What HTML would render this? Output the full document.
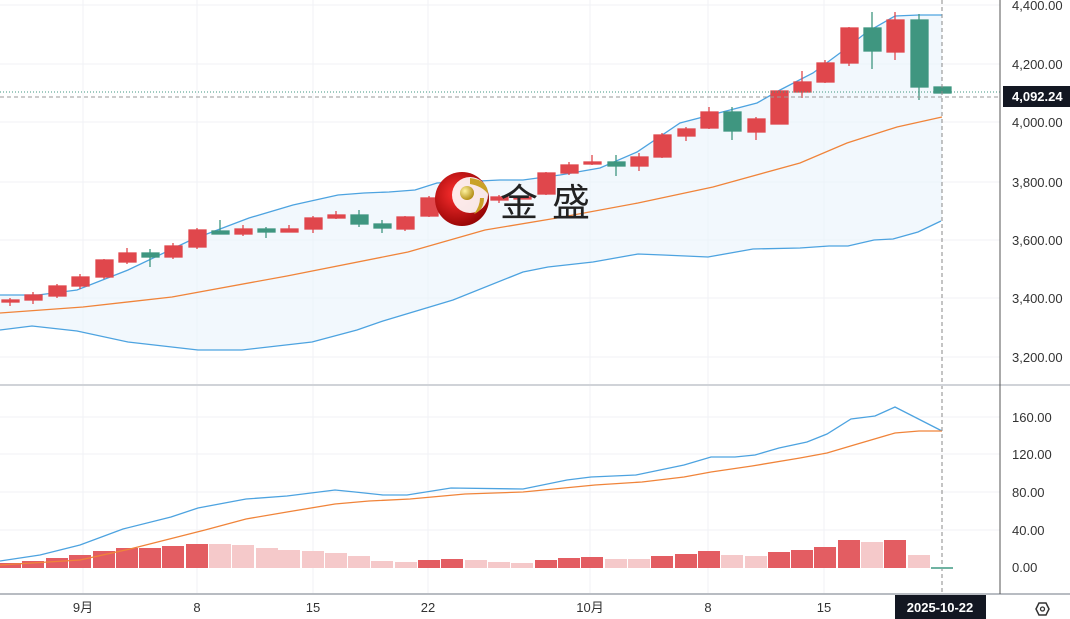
<!DOCTYPE html>
<html><head><meta charset="utf-8"><style>
html,body{margin:0;padding:0;background:#fff;}
svg{display:block;}
text{font-family:"Liberation Sans","Noto Sans CJK SC",sans-serif;}
</style></head><body>
<svg width="1070" height="619" viewBox="0 0 1070 619" xmlns="http://www.w3.org/2000/svg">
<rect width="1070" height="619" fill="#fff"/>
<!-- grid -->
<g stroke="#f0f2f5" stroke-width="1">
<line x1="0" y1="5" x2="1000" y2="5"/><line x1="0" y1="64" x2="1000" y2="64"/><line x1="0" y1="122" x2="1000" y2="122"/><line x1="0" y1="182" x2="1000" y2="182"/><line x1="0" y1="240" x2="1000" y2="240"/><line x1="0" y1="298" x2="1000" y2="298"/><line x1="0" y1="357" x2="1000" y2="357"/>
<line x1="0" y1="417" x2="1000" y2="417"/><line x1="0" y1="454" x2="1000" y2="454"/><line x1="0" y1="492" x2="1000" y2="492"/><line x1="0" y1="530" x2="1000" y2="530"/>
<line x1="83" y1="0" x2="83" y2="594"/><line x1="197" y1="0" x2="197" y2="594"/><line x1="313" y1="0" x2="313" y2="594"/><line x1="428" y1="0" x2="428" y2="594"/><line x1="590" y1="0" x2="590" y2="594"/><line x1="708" y1="0" x2="708" y2="594"/><line x1="824" y1="0" x2="824" y2="594"/>
</g>
<!-- band fill -->
<path d="M0,295 L38,295 L77,290 L128,270 L191,240 L249,218 L293,205 L338,195 L364,193 L389,192 L415,190 L437,183 L500,180 L523,180 L560,175 L600,168 L637,152 L680,123 L757,103 L780,90 L813,73 L840,53 L867,32 L895,16 L919,15 L942,15 L942,221 L918,232 L893,239 L874,240 L848,246 L829,246 L800,248 L753,249 L708,257 L663,255 L638,254 L593,262 L548,267 L523,272 L453,300 L383,321 L357,330 L312,342 L242,350 L198,350 L128,342 L77,331 L32,326 L0,330 Z" fill="#eaf4fc" fill-opacity="0.6"/>
<polyline fill="none" stroke="#4da3e0" stroke-width="1.3" points="0,295 38,295 77,290 128,270 191,240 249,218 293,205 338,195 364,193 389,192 415,190 437,183 500,180 523,180 560,175 600,168 637,152 680,123 757,103 780,90 813,73 840,53 867,32 895,16 919,15 942,15"/>
<polyline fill="none" stroke="#4da3e0" stroke-width="1.3" points="0,330 32,326 77,331 128,342 198,350 242,350 312,342 357,330 383,321 453,300 523,272 548,267 593,262 638,254 663,255 708,257 753,249 800,248 829,246 848,246 874,240 893,239 918,232 941,221"/>
<polyline fill="none" stroke="#f0843a" stroke-width="1.3" points="0,313 83,307 172,297 287,276 408,252 485,230 557,218 638,203 713,187 800,163 847,143 897,127 942,117"/>
<!-- candles -->
<g stroke-width="1.3">
<g stroke="#e0474c" fill="#e0474c">
<line x1="10" y1="298" x2="10" y2="306"/><rect x="2" y="300" width="17" height="2"/>
<line x1="33" y1="292" x2="33" y2="304"/><rect x="25" y="295" width="17" height="5"/>
<line x1="57" y1="284" x2="57" y2="298"/><rect x="49" y="286" width="17" height="10"/>
<line x1="80" y1="274" x2="80" y2="289"/><rect x="72" y="277" width="17" height="9"/>
<line x1="104" y1="259" x2="104" y2="279"/><rect x="96" y="260" width="17" height="17"/>
<line x1="127" y1="248" x2="127" y2="264"/><rect x="119" y="253" width="17" height="9"/>
<line x1="173" y1="243" x2="173" y2="259"/><rect x="165" y="246" width="17" height="11"/>
<line x1="197" y1="228" x2="197" y2="249"/><rect x="189" y="230" width="17" height="17"/>
<line x1="243" y1="225" x2="243" y2="236"/><rect x="235" y="229" width="17" height="5"/>
<line x1="289" y1="225" x2="289" y2="232"/><rect x="281" y="229" width="17" height="3"/>
<line x1="313" y1="216" x2="313" y2="233"/><rect x="305" y="218" width="17" height="11"/>
<line x1="336" y1="211" x2="336" y2="219"/><rect x="328" y="215" width="17" height="3"/>
<line x1="405" y1="216" x2="405" y2="231"/><rect x="397" y="217" width="17" height="12"/>
<line x1="429" y1="196" x2="429" y2="217"/><rect x="421" y="198" width="17" height="18"/>
<rect x="444" y="195" width="17" height="5"/>
<line x1="499" y1="195" x2="499" y2="203"/><rect x="491" y="197" width="17" height="3"/>
<rect x="514" y="197" width="17" height="2"/>
<line x1="546" y1="172" x2="546" y2="195"/><rect x="538" y="173" width="17" height="21"/>
<line x1="569" y1="162" x2="569" y2="175"/><rect x="561" y="165" width="17" height="8"/>
<line x1="592" y1="155" x2="592" y2="165"/><rect x="584" y="162" width="17" height="2"/>
<line x1="639" y1="153" x2="639" y2="171"/><rect x="631" y="157" width="17" height="9"/>
<line x1="662" y1="133" x2="662" y2="158"/><rect x="654" y="135" width="17" height="22"/>
<line x1="686" y1="127" x2="686" y2="141"/><rect x="678" y="129" width="17" height="7"/>
<line x1="709" y1="107" x2="709" y2="129"/><rect x="701" y="112" width="17" height="16"/>
<line x1="756" y1="117" x2="756" y2="140"/><rect x="748" y="119" width="17" height="13"/>
<rect x="771" y="91" width="17" height="33"/>
<line x1="802" y1="71" x2="802" y2="98"/><rect x="794" y="82" width="17" height="10"/>
<line x1="825" y1="60" x2="825" y2="83"/><rect x="817" y="63" width="17" height="19"/>
<line x1="849" y1="27" x2="849" y2="66"/><rect x="841" y="28" width="17" height="35"/>
<line x1="895" y1="12" x2="895" y2="60"/><rect x="887" y="20" width="17" height="32"/>
</g>
<g stroke="#3f9680" fill="#3f9680">
<line x1="150" y1="249" x2="150" y2="267"/><rect x="142" y="253" width="17" height="4"/>
<line x1="220" y1="220" x2="220" y2="234"/><rect x="212" y="231" width="17" height="3"/>
<line x1="266" y1="227" x2="266" y2="238"/><rect x="258" y="229" width="17" height="3"/>
<line x1="359" y1="210" x2="359" y2="227"/><rect x="351" y="215" width="17" height="9"/>
<line x1="382" y1="220" x2="382" y2="233"/><rect x="374" y="224" width="17" height="4"/>
<line x1="476" y1="188" x2="476" y2="203"/><rect x="468" y="192" width="17" height="6"/>
<line x1="616" y1="155" x2="616" y2="176"/><rect x="608" y="162" width="17" height="4"/>
<line x1="732" y1="107" x2="732" y2="140"/><rect x="724" y="112" width="17" height="19"/>
<line x1="872" y1="12" x2="872" y2="69"/><rect x="864" y="28" width="17" height="23"/>
<line x1="919" y1="14" x2="919" y2="100"/><rect x="911" y="20" width="17" height="67"/>
<rect x="934" y="87" width="17" height="6"/>
</g>
</g>
<!-- logo -->
<defs><radialGradient id="rg" cx="0.4" cy="0.4" r="0.7"><stop offset="0" stop-color="#ff3030"/><stop offset="1" stop-color="#8a0000"/></radialGradient>
<radialGradient id="gg" cx="0.35" cy="0.35" r="0.7"><stop offset="0" stop-color="#fff3a0"/><stop offset="1" stop-color="#b08a10"/></radialGradient></defs>
<circle cx="462" cy="199" r="27" fill="url(#rg)"/>
<circle cx="470" cy="195" r="18" fill="#fff" fill-opacity="0.9"/>
<path d="M470,178 Q488,180 488,194 Q482,186 470,184 Z" fill="#c9a227"/>
<path d="M484,198 Q484,210 474,214 Q480,206 480,198 Z" fill="#c9a227"/>
<circle cx="467" cy="193" r="7" fill="url(#gg)"/>
<text x="500" y="216" font-size="38" fill="#222" letter-spacing="14">金盛</text>
<!-- crosshair / price lines -->
<line x1="0" y1="92" x2="1000" y2="92" stroke="#3f9680" stroke-width="1" stroke-dasharray="1,2"/>
<line x1="0" y1="97" x2="1000" y2="97" stroke="#999" stroke-width="1" stroke-dasharray="4,3"/>
<line x1="942" y1="0" x2="942" y2="594" stroke="#888" stroke-width="1" stroke-dasharray="4,3"/>
<!-- pane separators -->
<line x1="0" y1="385" x2="1070" y2="385" stroke="#d0d3d8" stroke-width="2"/>
<line x1="0" y1="594" x2="1070" y2="594" stroke="#b8bcc2" stroke-width="2"/>
<line x1="1000" y1="0" x2="1000" y2="594" stroke="#555" stroke-width="1"/>
<!-- histogram -->
<g fill="#e35d62">
<rect x="0" y="563" width="21" height="5"/><rect x="22" y="561" width="22" height="7"/><rect x="46" y="558" width="22" height="10"/><rect x="69" y="555" width="22" height="13"/><rect x="93" y="551" width="22" height="17"/><rect x="116" y="548" width="22" height="20"/><rect x="139" y="548" width="22" height="20"/><rect x="162" y="546" width="22" height="22"/><rect x="186" y="544" width="22" height="24"/>
<rect x="418" y="560" width="22" height="8"/><rect x="441" y="559" width="22" height="9"/>
<rect x="535" y="560" width="22" height="8"/><rect x="558" y="558" width="22" height="10"/><rect x="581" y="557" width="22" height="11"/>
<rect x="651" y="556" width="22" height="12"/><rect x="675" y="554" width="22" height="14"/><rect x="698" y="551" width="22" height="17"/>
<rect x="768" y="552" width="22" height="16"/><rect x="791" y="550" width="22" height="18"/><rect x="814" y="547" width="22" height="21"/><rect x="838" y="540" width="22" height="28"/><rect x="884" y="540" width="22" height="28"/>
</g>
<g fill="#f5c9ca">
<rect x="209" y="544" width="22" height="24"/><rect x="232" y="545" width="22" height="23"/><rect x="256" y="548" width="22" height="20"/><rect x="278" y="550" width="22" height="18"/><rect x="302" y="551" width="22" height="17"/><rect x="325" y="553" width="22" height="15"/><rect x="348" y="556" width="22" height="12"/><rect x="371" y="561" width="22" height="7"/><rect x="395" y="562" width="22" height="6"/>
<rect x="465" y="560" width="22" height="8"/><rect x="488" y="562" width="22" height="6"/><rect x="511" y="563" width="22" height="5"/>
<rect x="605" y="559" width="22" height="9"/><rect x="628" y="559" width="22" height="9"/>
<rect x="721" y="555" width="22" height="13"/><rect x="745" y="556" width="22" height="12"/>
<rect x="861" y="542" width="22" height="26"/><rect x="908" y="555" width="22" height="13"/>
</g>
<rect x="931" y="567" width="22" height="2" fill="#6fb3a2"/>
<polyline fill="none" stroke="#4da3e0" stroke-width="1.3" points="0,561 40,555 80,545 123,529 171,517 198,508 246,499 287,496 335,490 355,492 383,495 407,495 451,488 523,489 567,480 591,477 636,475 684,465 711,457 735,457 755,455 779,448 807,442 827,434 851,419 875,416 895,407 942,431"/>
<polyline fill="none" stroke="#f0843a" stroke-width="1.3" points="0,565 80,560 130,549 205,530 246,519 287,512 335,504 369,501 410,499 465,494 523,492 595,485 642,482 684,477 711,472 752,466 800,458 827,453 854,445 895,433 919,431 942,431"/>
<!-- right axis labels -->
<g font-size="13" fill="#333">
<text x="1012" y="10">4,400.00</text><text x="1012" y="69">4,200.00</text><text x="1012" y="127">4,000.00</text><text x="1012" y="187">3,800.00</text><text x="1012" y="245">3,600.00</text><text x="1012" y="303">3,400.00</text><text x="1012" y="362">3,200.00</text>
<text x="1012" y="422">160.00</text><text x="1012" y="459">120.00</text><text x="1012" y="497">80.00</text><text x="1012" y="535">40.00</text><text x="1012" y="572">0.00</text>
</g>
<rect x="1003" y="86" width="67" height="21" fill="#131722"/>
<text x="1012" y="101" font-size="13" font-weight="bold" fill="#fff">4,092.24</text>
<!-- bottom axis -->
<g font-size="13" fill="#333" text-anchor="middle">
<text x="83" y="612">9月</text><text x="197" y="612">8</text><text x="313" y="612">15</text><text x="428" y="612">22</text><text x="590" y="612">10月</text><text x="708" y="612">8</text><text x="824" y="612">15</text>
</g>
<rect x="895" y="595" width="91" height="24" fill="#131722"/>
<text x="940" y="612" font-size="13" font-weight="bold" fill="#fff" text-anchor="middle">2025-10-22</text>
<polygon points="1036,609 1039,603 1046,603 1049,609 1046,615 1039,615" fill="none" stroke="#333" stroke-width="1.5"/>
<circle cx="1042.5" cy="609" r="2" fill="none" stroke="#333" stroke-width="1.3"/>
</svg>
</body></html>
